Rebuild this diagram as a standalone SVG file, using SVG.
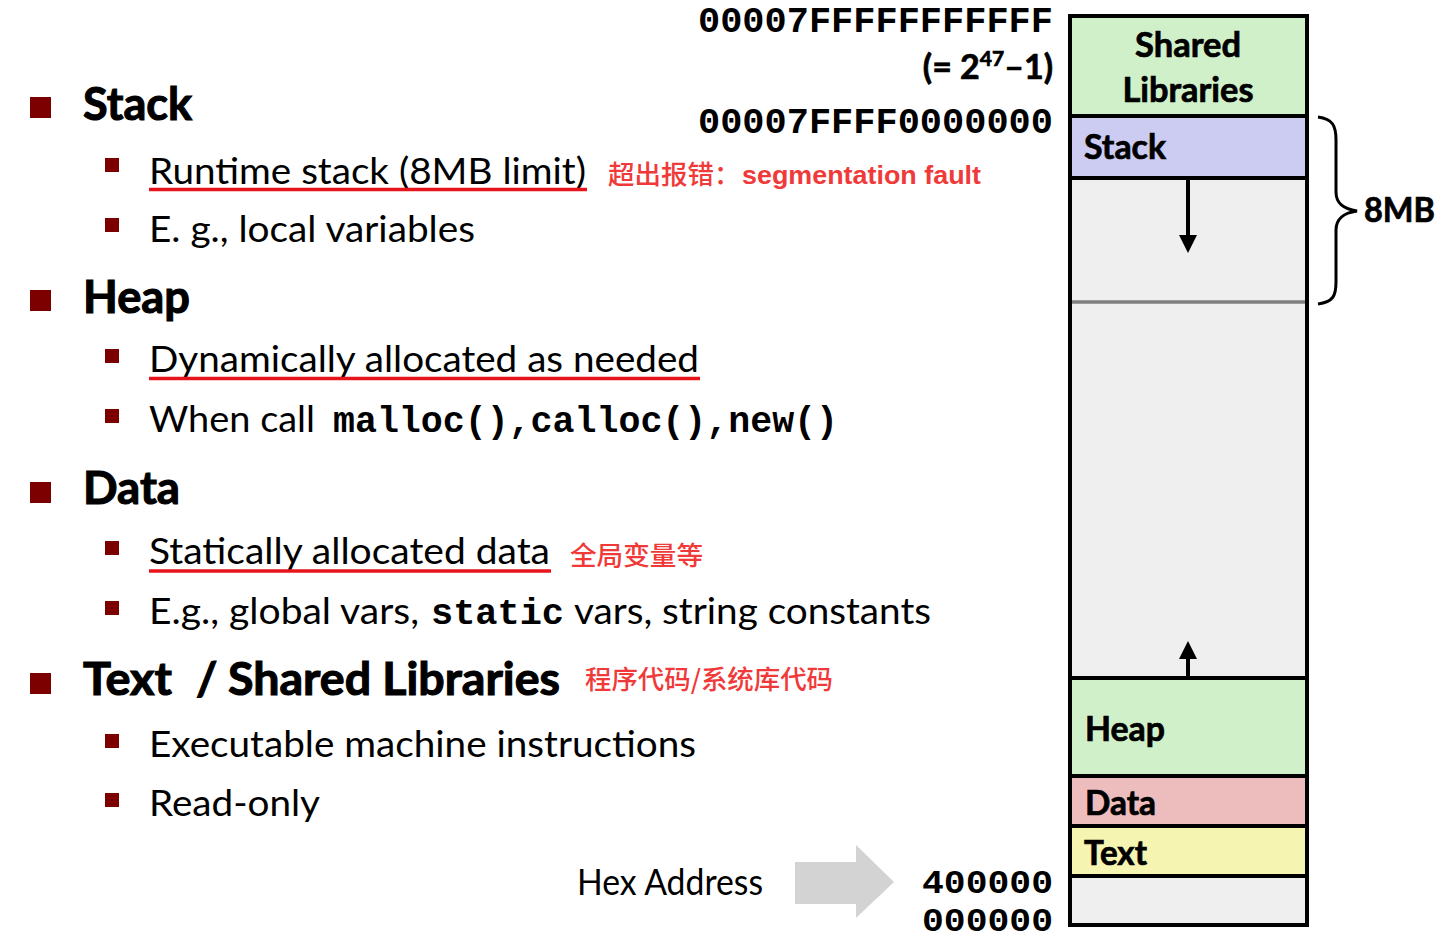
<svg xmlns="http://www.w3.org/2000/svg" width="1440" height="940" viewBox="0 0 1440 940">
  <style>
    .h1 { font-family: Lato, "Open Sans", sans-serif; font-weight: 700; font-size: 46px; fill: #000; stroke: #000; stroke-width: 1.1; }
    .body { font-family: Lato, "Open Sans", sans-serif; font-size: 36px; fill: #000; }
    .mono { font-family: "Liberation Mono", "DejaVu Sans Mono", monospace; font-weight: 700; font-size: 37px; fill: #000; }
    .addr { font-family: "Liberation Mono", "DejaVu Sans Mono", monospace; font-weight: 700; font-size: 33px; fill: #000; }
    .note { font-family: "Liberation Sans", "Noto Sans CJK SC", sans-serif; font-weight: 700; font-size: 25px; fill: #f03a3a; }
    .cjk { font-family: "Noto Sans CJK SC", sans-serif; font-weight: 500; font-size: 26.5px; fill: #f03a3a; }
    .seg { font-family: Lato, "Open Sans", sans-serif; font-weight: 700; font-size: 34px; fill: #000; stroke: #000; stroke-width: 0.7; }
    .big { fill: #7d0000; }
    .small { fill: #7d0000; }
    .uline { stroke: #e8141b; stroke-width: 3.5; }
    .mem { stroke: #000; stroke-width: 4; }
  </style>
  <rect width="1440" height="940" fill="#fff"/>

  <!-- bullet list -->
  <g id="list-stack">
    <rect class="big" x="30" y="97" width="21" height="21"/>
    <text class="h1" x="83" y="120" textLength="109" lengthAdjust="spacingAndGlyphs">Stack</text>
    <rect class="small" x="105" y="158" width="14" height="14"/>
    <text class="body" x="149" y="184" textLength="437" lengthAdjust="spacingAndGlyphs">Runtime stack (8MB limit)</text>
    <line class="uline" x1="149" y1="189.5" x2="587" y2="189.5"/>
    <text class="cjk" x="608" y="184">超出报错：</text>
    <text class="note" x="742" y="184" textLength="239" lengthAdjust="spacingAndGlyphs">segmentation fault</text>
    <rect class="small" x="105" y="218" width="14" height="14"/>
    <text class="body" x="149" y="242" textLength="326" lengthAdjust="spacingAndGlyphs">E. g., local variables</text>
  </g>

  <g id="list-heap">
    <rect class="big" x="30" y="290" width="21" height="21"/>
    <text class="h1" x="83" y="313" textLength="107" lengthAdjust="spacingAndGlyphs">Heap</text>
    <rect class="small" x="105" y="349" width="14" height="14"/>
    <text class="body" x="149" y="372" textLength="550" lengthAdjust="spacingAndGlyphs">Dynamically allocated as needed</text>
    <line class="uline" x1="149" y1="378.5" x2="700" y2="378.5"/>
    <rect class="small" x="105" y="409" width="14" height="14"/>
    <text class="body" x="149" y="432" textLength="166" lengthAdjust="spacingAndGlyphs">When call</text>
    <text class="mono" x="333" y="432" textLength="505" lengthAdjust="spacingAndGlyphs">malloc(),calloc(),new()</text>
  </g>

  <g id="list-data">
    <rect class="big" x="30" y="482" width="21" height="21"/>
    <text class="h1" x="83" y="504" textLength="97" lengthAdjust="spacingAndGlyphs">Data</text>
    <rect class="small" x="105" y="541" width="14" height="14"/>
    <text class="body" x="149" y="564" textLength="401" lengthAdjust="spacingAndGlyphs">Statically allocated data</text>
    <line class="uline" x1="149" y1="571" x2="551" y2="571"/>
    <text class="cjk" x="570" y="565" textLength="133" lengthAdjust="spacingAndGlyphs">全局变量等</text>
    <rect class="small" x="105" y="601" width="14" height="14"/>
    <text class="body" x="149" y="624" textLength="270" lengthAdjust="spacingAndGlyphs">E.g., global vars,</text>
    <text class="mono" x="431" y="624" textLength="133" lengthAdjust="spacingAndGlyphs">static</text>
    <text class="body" x="574" y="624" textLength="357" lengthAdjust="spacingAndGlyphs">vars, string constants</text>
  </g>

  <g id="list-text">
    <rect class="big" x="30" y="673" width="21" height="21"/>
    <text class="h1" x="83" y="695" textLength="89" lengthAdjust="spacingAndGlyphs">Text</text>
    <text class="h1" x="196" y="695">/</text>
    <text class="h1" x="228" y="695" textLength="332" lengthAdjust="spacingAndGlyphs">Shared Libraries</text>
    <text class="cjk" x="585" y="689" textLength="248" lengthAdjust="spacingAndGlyphs">程序代码/系统库代码</text>
    <rect class="small" x="105" y="734" width="14" height="14"/>
    <text class="body" x="149" y="757" textLength="547" lengthAdjust="spacingAndGlyphs">Executable machine instructions</text>
    <rect class="small" x="105" y="793" width="14" height="14"/>
    <text class="body" x="149" y="816" textLength="171" lengthAdjust="spacingAndGlyphs">Read-only</text>
  </g>

  <!-- address labels -->
  <g id="addresses">
    <text class="mono" x="1053" y="32" text-anchor="end" textLength="355" lengthAdjust="spacingAndGlyphs">00007FFFFFFFFFFF</text>
    <text class="seg" x="1053" y="79" text-anchor="end" font-size="33">(= 2<tspan font-size="21" dy="-13">47</tspan><tspan dy="13">–1)</tspan></text>
    <text class="mono" x="1053" y="133" text-anchor="end" textLength="355" lengthAdjust="spacingAndGlyphs">00007FFFF0000000</text>
    <text class="addr" x="1053" y="893" text-anchor="end" textLength="131" lengthAdjust="spacingAndGlyphs">400000</text>
    <text class="addr" x="1053" y="931" text-anchor="end" textLength="131" lengthAdjust="spacingAndGlyphs">000000</text>
  </g>

  <g id="hex-label">
    <text class="body" x="577" y="895" font-size="33" textLength="186" lengthAdjust="spacingAndGlyphs">Hex Address</text>
    <path d="M795,862 H856 V845 L894,882 L856,918 V904 H795 Z" fill="#d3d3d3"/>
  </g>

  <!-- memory layout column -->
  <g id="mem-gap">
    <rect x="1070" y="178" width="237" height="500" fill="#efefef"/>
    <line x1="1070" y1="302" x2="1307" y2="302" stroke="#7f7f7f" stroke-width="3.5"/>
  </g>
  <g id="mem-shared">
    <rect x="1070" y="16" width="237" height="100" fill="#cff0c8"/>
    <text class="seg" x="1188" y="57" text-anchor="middle" textLength="106" lengthAdjust="spacingAndGlyphs">Shared</text>
    <text class="seg" x="1188" y="102" text-anchor="middle" textLength="131" lengthAdjust="spacingAndGlyphs">Libraries</text>
  </g>
  <g id="mem-stack">
    <rect x="1070" y="116" width="237" height="62" fill="#cccbf2"/>
    <text class="seg" x="1084" y="159" textLength="82" lengthAdjust="spacingAndGlyphs">Stack</text>
  </g>
  <g id="mem-heap">
    <rect x="1070" y="678" width="237" height="98" fill="#cff0c8"/>
    <text class="seg" x="1085" y="741" textLength="80" lengthAdjust="spacingAndGlyphs">Heap</text>
  </g>
  <g id="mem-data">
    <rect x="1070" y="776" width="237" height="50" fill="#edbcbc"/>
    <text class="seg" x="1085" y="815" textLength="71" lengthAdjust="spacingAndGlyphs">Data</text>
  </g>
  <g id="mem-text">
    <rect x="1070" y="826" width="237" height="50" fill="#f5f4b0"/>
    <text class="seg" x="1084" y="865" textLength="63" lengthAdjust="spacingAndGlyphs">Text</text>
  </g>
  <g id="mem-bottom">
    <rect x="1070" y="876" width="237" height="49" fill="#efefef"/>
  </g>
  <g id="mem-borders" fill="none">
    <rect class="mem" x="1070" y="16" width="237" height="909"/>
    <line class="mem" x1="1070" y1="116" x2="1307" y2="116"/>
    <line class="mem" x1="1070" y1="178" x2="1307" y2="178"/>
    <line class="mem" x1="1070" y1="678" x2="1307" y2="678"/>
    <line class="mem" x1="1070" y1="776" x2="1307" y2="776"/>
    <line class="mem" x1="1070" y1="826" x2="1307" y2="826"/>
    <line class="mem" x1="1070" y1="876" x2="1307" y2="876"/>
  </g>

  <!-- growth arrows and size brace -->
  <g id="connectors" fill="none" stroke="#000">
    <line x1="1188" y1="180" x2="1188" y2="236" stroke-width="4"/>
    <path d="M1179,235 L1197,235 L1188,253 Z" fill="#000" stroke="none"/>
    <line x1="1188" y1="676" x2="1188" y2="656" stroke-width="4"/>
    <path d="M1179,659 L1197,659 L1188,641 Z" fill="#000" stroke="none"/>
    <path d="M1318,117 C1333,119 1336,126 1336,140 V192 C1336,204 1344,209 1357,211 C1344,213 1336,218 1336,230 V282 C1336,296 1333,302 1318,304" stroke-width="3"/>
  </g>
  <g id="size-label">
    <text class="seg" x="1364" y="222" textLength="71" lengthAdjust="spacingAndGlyphs">8MB</text>
  </g>
</svg>
